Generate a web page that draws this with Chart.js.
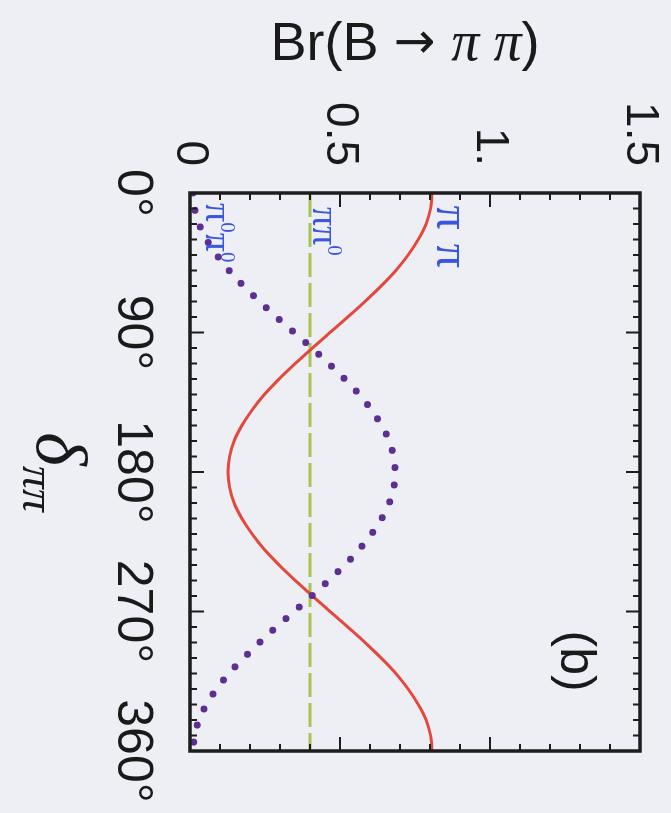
<!DOCTYPE html>
<html>
<head>
<meta charset="utf-8">
<script src="https://cdn.jsdelivr.net/npm/chart.js@4.4.1/dist/chart.umd.min.js"></script>
<style>
  html, body { margin: 0; padding: 0; background: #edeff4; overflow: hidden; }
  /* the figure is laid out landscape and turned a quarter turn clockwise */
  #wrap {
    position: absolute; left: 0; top: 0; width: 813px; height: 671px;
    transform-origin: 0 0; transform: translateX(671px) rotate(90deg);
  }
  canvas { display: block; }
</style>
</head>
<body>
<div id="wrap"><canvas id="c" width="813" height="671"></canvas></div>
<script>
// strong phase δ_ππ in degrees
const phaseDeg = [0,10,20,30,40,50,60,70,80,90,100,110,120,130,140,150,160,170,180,
                  190,200,210,220,230,240,250,260,270,280,290,300,310,320,330,340,350,360];
// Br(B → π+π−)
const brPlusMinus = [0.807,0.802,0.787,0.761,0.727,0.686,0.637,0.583,0.526,0.467,0.408,0.351,0.297,0.248,0.207,0.173,0.147,0.132,0.127,
                     0.132,0.147,0.173,0.207,0.248,0.297,0.351,0.408,0.467,0.526,0.583,0.637,0.686,0.727,0.761,0.787,0.802,0.807];
// Br(B → π0π0)
const brNeutral = [0.010,0.015,0.030,0.055,0.089,0.130,0.179,0.232,0.288,0.347,0.406,0.462,0.516,0.564,0.605,0.639,0.664,0.679,0.684,
                   0.679,0.664,0.639,0.605,0.564,0.516,0.462,0.406,0.347,0.288,0.232,0.179,0.130,0.089,0.055,0.030,0.015,0.010];
// Br(B → π+π0), independent of the phase
const phaseEnds = [0, 360];
const brCharged = [0.40, 0.40];

const deltaTicks = [0, 90, 180, 270, 360];
const deltaTickLabels = ['0°', '90°', '180°', '270°', '360°'];
const brTicks = [0, 0.5, 1, 1.5];
const brTickLabels = ['0', '0.5', '1.', '1.5'];

const SANS = '"Liberation Sans", Arial, "DejaVu Sans", sans-serif';
const SERIF = '"Liberation Serif", "Times New Roman", "DejaVu Serif", serif';
const BLUE = '#3a55e0';

function pairs(xs, ys) { return xs.map((x, i) => ({ x: x, y: ys[i] })); }

// draw a row of text runs, each with its own font and vertical shift
function drawRuns(ctx, runs, x, y, align) {
  let total = 0;
  runs.forEach(r => { ctx.font = r.font; r.w = ctx.measureText(r.t).width + (r.gap || 0); total += r.w; });
  let cx = align === 'center' ? x - total / 2 : x;
  ctx.textAlign = 'left';
  ctx.textBaseline = 'alphabetic';
  runs.forEach(r => { ctx.font = r.font; ctx.fillText(r.t, cx, y + (r.dy || 0)); cx += r.w; });
}

const decor = {
  id: 'decor',
  beforeDraw(chart) {
    const ctx = chart.ctx;
    ctx.save();
    ctx.fillStyle = '#edeff4';
    ctx.fillRect(0, 0, chart.width, chart.height);
    ctx.restore();
  },
  afterDraw(chart) {
    const ctx = chart.ctx;
    const a = chart.chartArea;
    const xs = chart.scales.x, ys = chart.scales.y;
    ctx.save();
    ctx.strokeStyle = '#1d1d1d';
    // inward tick marks on all four sides
    ctx.lineWidth = 2;
    ctx.beginPath();
    for (let d = 0; d <= 360; d += 10) {
      const px = xs.getPixelForValue(d);
      const len = deltaTicks.includes(d) ? 14 : 7;
      ctx.moveTo(px, a.bottom); ctx.lineTo(px, a.bottom - len);
      ctx.moveTo(px, a.top); ctx.lineTo(px, a.top + len);
    }
    for (let k = 0; k <= 15; k++) {
      const v = k / 10;
      const py = ys.getPixelForValue(v);
      const len = (k % 5 === 0) ? 14 : 7;
      ctx.moveTo(a.left, py); ctx.lineTo(a.left + len, py);
      ctx.moveTo(a.right, py); ctx.lineTo(a.right - len, py);
    }
    ctx.stroke();
    // frame
    ctx.lineWidth = 3.5;
    ctx.strokeRect(a.left, a.top, a.right - a.left, a.bottom - a.top);

    // axis titles
    ctx.fillStyle = '#1a1a1a';
    ctx.save();
    ctx.translate(60, (a.top + a.bottom) / 2 + 10);
    ctx.rotate(-Math.PI / 2);
    drawRuns(ctx, [
      { t: 'Br(B ', font: '54px ' + SANS },
      { t: '→ ', font: '50px "DejaVu Sans", ' + SANS, dy: -2 },
      { t: 'π π', font: 'italic 56px ' + SERIF },
      { t: ')', font: '54px ' + SANS }
    ], 0, 0, 'center');
    ctx.restore();

    drawRuns(ctx, [
      { t: 'δ', font: 'italic 72px ' + SERIF },
      { t: 'ππ', font: 'italic 46px ' + SERIF, dy: 14 }
    ], (a.left + a.right) / 2, 634, 'center');

    // panel tag
    ctx.font = '50px ' + SANS;
    ctx.textAlign = 'center';
    ctx.textBaseline = 'alphabetic';
    ctx.fillText('(b)', xs.getPixelForValue(302), ys.getPixelForValue(1.25) + 4);

    // curve labels
    ctx.fillStyle = BLUE;
    drawRuns(ctx, [
      { t: 'π', font: '48px ' + SERIF, gap: 14 },
      { t: 'π', font: '48px ' + SERIF }
    ], xs.getPixelForValue(8), ys.getPixelForValue(0.825), 'left');
    drawRuns(ctx, [
      { t: 'π', font: '38px ' + SERIF },
      { t: 'π', font: '38px ' + SERIF },
      { t: '0', font: '21px ' + SERIF, dy: -15 }
    ], xs.getPixelForValue(9), ys.getPixelForValue(0.41), 'left');
    drawRuns(ctx, [
      { t: 'π', font: '38px ' + SERIF },
      { t: '0', font: '21px ' + SERIF, dy: -15 },
      { t: 'π', font: '38px ' + SERIF },
      { t: '0', font: '21px ' + SERIF, dy: -15 }
    ], xs.getPixelForValue(6.5), ys.getPixelForValue(0.055), 'left');
    ctx.restore();
  }
};

new Chart(document.getElementById('c'), {
  type: 'line',
  data: {
    datasets: [
      {
        label: 'π0π0',
        data: pairs(phaseDeg, brNeutral),
        borderColor: '#5e2f93',
        borderWidth: 7,
        borderDash: [0, 17.5],
        borderCapStyle: 'round',
        cubicInterpolationMode: 'monotone',
        pointRadius: 0,
        fill: false
      },
      {
        label: 'π+π−',
        data: pairs(phaseDeg, brPlusMinus),
        borderColor: '#e4473c',
        borderWidth: 3,
        cubicInterpolationMode: 'monotone',
        pointRadius: 0,
        fill: false
      },
      {
        label: 'π+π0',
        data: pairs(phaseEnds, brCharged),
        borderColor: '#a9c452',
        borderWidth: 3,
        borderDash: [24, 6],
        pointRadius: 0,
        fill: false
      }
    ]
  },
  options: {
    responsive: false,
    animation: false,
    devicePixelRatio: 1,
    layout: { padding: { top: 31, right: 62, left: 0, bottom: 0 } },
    plugins: { legend: { display: false }, tooltip: { enabled: false } },
    scales: {
      x: {
        type: 'linear', min: 0, max: 360,
        grid: { display: false }, border: { display: false },
        afterFit: s => { s.height = 190; s.paddingLeft = 0; s.paddingRight = 0; },
        afterBuildTicks: s => { s.ticks = deltaTicks.map(v => ({ value: v })); },
        ticks: {
          padding: 20, maxRotation: 0, minRotation: 0, color: '#1a1a1a',
          font: { family: SANS, size: 50 },
          callback: v => deltaTickLabels[deltaTicks.indexOf(v)]
        }
      },
      y: {
        type: 'linear', min: 0, max: 1.5,
        grid: { display: false }, border: { display: false },
        afterFit: s => { s.width = 193; s.paddingTop = 0; s.paddingBottom = 0; },
        afterBuildTicks: s => { s.ticks = brTicks.map(v => ({ value: v })); },
        ticks: {
          padding: 19, color: '#1a1a1a',
          font: { family: SANS, size: 46 },
          callback: v => brTickLabels[brTicks.indexOf(v)]
        }
      }
    }
  },
  plugins: [decor]
});
</script>
</body>
</html>
